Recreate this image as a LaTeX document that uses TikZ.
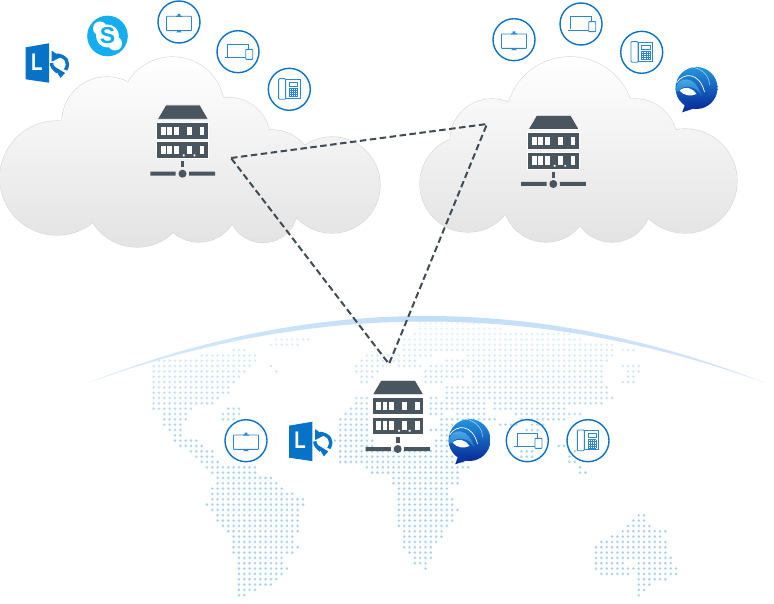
\documentclass[tikz,border=0pt]{standalone}
\usepackage{fontspec}
\setmainfont{Liberation Sans}
\definecolor{slate}{HTML}{4A565F}
\definecolor{dashc}{HTML}{3F4B55}
\definecolor{ring}{HTML}{0A72C6}
\definecolor{devc}{HTML}{2F86D0}
\definecolor{dotc}{HTML}{A9D5F2}
\definecolor{lyncb}{HTML}{0672C8}
\definecolor{skypeb}{HTML}{12AEF0}
\definecolor{edgec}{HTML}{D8D8D8}
\definecolor{cloudb}{HTML}{E3E3E3}
\definecolor{jabtop}{HTML}{2396DE}
\definecolor{jabbot}{HTML}{082A9A}
\definecolor{jabtail}{HTML}{0C3FA8}
\definecolor{swirlt}{HTML}{5DB8EE}
\definecolor{swirlb}{HTML}{1677CC}
\pgfdeclarehorizontalshading{horizonfade}{100bp}{
  rgb(0bp)=(.90,.95,.99);
  rgb(25bp)=(.84,.92,.98);
  rgb(50bp)=(.76,.87,.97);
  rgb(75bp)=(.82,.90,.98);
  rgb(87bp)=(.90,.95,.99);
  rgb(100bp)=(1,1,1)}
\tikzset{
  linkline/.style={draw=dashc,line width=2pt,dash pattern=on 6.5pt off 3.5pt,line join=miter},
  devline/.style={draw=devc,line width=.9pt,fill=none},
  hubfill/.style={fill=slate,draw=white,line width=.7pt},
  ringline/.style={draw=ring,line width=1.4pt},
  tvicon/.pic={
    \draw[ringline] (0,0) circle[radius=21];
    \draw[devline,rounded corners=.6pt] (-12.5,-5.7) rectangle (12.5,8.7);
    \fill[devc] (-3,-6.2) rectangle (3,-5.2) (-1.3,-8.2) rectangle (1.3,-6);
    \fill[devc] (-1,8.7) -- (1,8.7) -- (3,10.5) -- (-3,10.5) -- cycle;
  },
  laptopicon/.pic={
    \draw[ringline] (0,0) circle[radius=21];
    \draw[devline] (-10.3,5.5) -- (-10.3,-7.3) -- (10.3,-7.3) -- (10.3,-2.3);
    \draw[devline] (-13,6) -- (7.5,6);
    \draw[devline,fill=white,rounded corners=.6pt] (7.7,-2.3) rectangle (14.7,7.7);
  },
  phoneicon/.pic={
    \draw[ringline] (0,0) circle[radius=21];
    \draw[devline,rounded corners=1pt] (-10.7,-10.7) rectangle (-3.6,10);
    \draw[devline] (-3.6,-9.8) rectangle (10.7,9);
    \draw[devline] (0,-7.3) rectangle (8.3,-3.3);
    \foreach \gk in {0,2.07,4.14,6.21,8.28}{
      \draw[devc,line width=.6pt] (\gk,-1) -- (\gk,7.28);
      \draw[devc,line width=.6pt] (0,{-1+\gk}) -- (8.28,{-1+\gk});
    }
  },
  hubicon/.pic={
    \path[hubfill] (-16.8,-68.7) -- (17.6,-68.7) -- (25.9,-54.4) -- (-25.2,-54.4) -- cycle;
    \path[hubfill] (-25.8,-51.7) rectangle (25.8,-34.4);
    \path[hubfill] (-25.8,-32) rectangle (25.8,-15);
    \foreach \wx in {-21.5,-15.1,-8.5,4.5,17.2}{
      \fill[white] (\wx,-47) rectangle +(4.7,8.3);
      \fill[white] (\wx,-27.7) rectangle +(4.7,8.3);
    }
    \fill[white] (.4,-19.2) rectangle +(1.8,1.8) (11,-19.2) rectangle +(1.8,1.8);
    \fill[slate] (-1.5,-12.4) rectangle (1.8,-6.4);
    \fill[slate] (-32.2,-2) rectangle (-6.8,2) (6.5,-2) rectangle (32.5,2);
    \fill[slate] (0,0) circle[radius=4];
  },
  lyncicon/.pic={
    \fill[lyncb] (-33.8,-15.7) -- (-10.5,-19.7) -- (-10.5,19.7) -- (-33.8,16.3) -- cycle;
    \node[text=white,inner sep=0pt,transform shape,xscale=.78,font=\fontsize{24}{24}\selectfont\bfseries] (lyncl) at (-22.6,-.8) {L};
    \draw[lyncb,line width=3.4pt] (-3,-8) .. controls (6,-7) and (11,-1) .. (6,7);
    \fill[lyncb] (-7.8,-12.3) -- (1.5,-6) -- (-7.8,-1.3) -- cycle;
    \draw[lyncb,line width=3.4pt] (-8,0) .. controls (-8,3) and (-6,6) .. (-2,9);
    \fill[lyncb] (-6,3) -- (5.5,10) -- (1,15) -- cycle;
  },
  skypeicon/.pic={
    \fill[skypeb] (0,0) circle[radius=20.3];
    \fill[white] (0,0) circle[radius=11.5] (-7.5,-7.5) circle[radius=7] (7.5,7.5) circle[radius=7];
    \node[text=skypeb,inner sep=0pt,font=\fontsize{23}{23}\selectfont\bfseries] (skypes) at (0,0) {S};
  },
  jabbericon/.pic={
    \shade[top color=jabtop,bottom color=jabbot] (0,0) circle[radius=21];
    \shade[top color=jabtail,bottom color=jabbot] (-11,15) -- (-14.3,24.3) -- (-1,20) -- cycle;
    \shade[top color=swirlt,bottom color=swirlb] (-21,1) .. controls (-19,-12) and (-1,-14) .. (5,8)
       .. controls (0,-2) and (-12,-4) .. (-17,2) .. controls (-18,4) and (-20,5) .. (-21,1) -- cycle;
    \fill[white] (-17,2.5) .. controls (-11,-2) and (-5,-1) .. (0,6) .. controls (-5,8.5) and (-13,8) .. (-17,2.5) -- cycle;
    \draw[white,line width=.7pt] (-20,-5) .. controls (-13,-16) and (3,-16) .. (8,4);
    \draw[white,line width=.6pt,opacity=.6] (-4,-21) .. controls (6,-19) and (13,-12) .. (13,-3);
  },
}
\newcommand{\leftcloud}{(57,178) circle[radius=57] (107,122) circle[radius=45] (172.5,109) circle[radius=52]
  (228,140) circle[radius=42.5] (272,172) circle[radius=42] (332,185) circle[radius=48]
  (263,208) circle[radius=34.5] (199,203) circle[radius=39] (137,195) circle[radius=52]
  (130,170) circle[radius=50] (190,160) circle[radius=55] (250,170) circle[radius=45] (300,185) circle[radius=30]}
\newcommand{\rightcloud}{(468,184) circle[radius=48] (492,141) circle[radius=42] (570,121) circle[radius=64]
  (635,141) circle[radius=42] (685,181) circle[radius=52] (546,199) circle[radius=43] (612,203) circle[radius=39]
  (570,160) circle[radius=60] (510,170) circle[radius=45] (630,170) circle[radius=45]}
\begin{document}
\begin{tikzpicture}[x=1pt,y=-1pt]
\useasboundingbox (0,0) rectangle (774,604);
\fill[white] (0,0) rectangle (774,604);

% world map dots: row / first column / last column
\foreach \r/\a/\b in {
 -2/15/17,-1/9/19,0/0/19,1/0/18,2/0/17,3/0/16,4/0/15,5/0/14,6/0/14,7/0/12,8/0/11,9/0/7,9/14/16,10/2/6,10/13/16,11/2/6,11/13/15,
 12/2/5,13/3/5,14/4/5,15/4/8,16/5/9,17/7/11,18/8/11,19/9/12,20/10/19,21/11/19,22/12/22,23/12/23,24/11/24,25/11/26,26/11/28,
 27/10/28,28/11/27,29/12/27,30/12/27,31/13/27,32/14/27,33/15/26,34/15/26,35/15/27,36/15/26,37/16/24,38/16/24,39/16/25,40/16/24,
 41/16/23,42/16/22,43/16/19,44/16/17,
 -4/23/29,-3/22/27,1/22/22,2/23/23,
 -7/50/61,-6/50/65,-5/49/78,-4/46/80,-3/47/86,-2/47/86,-2/88/90,-1/40/52,-1/59/86,0/39/49,0/55/85,1/38/43,1/46/50,1/52/84,1/88/91,
 2/38/42,2/51/58,2/60/84,2/89/91,3/39/41,3/51/58,3/60/84,3/89/90,4/39/40,4/51/54,4/60/84,4/88/90,5/55/85,6/55/85,
 7/38/40,7/52/53,7/55/86,8/38/40,8/52/62,8/64/84,9/37/40,9/52/62,9/64/77,10/36/40,10/52/54,10/57/62,10/68/80,
 11/35/40,11/54/64,11/69/77,12/35/40,12/54/56,12/65/68,12/71/73,13/35/40,13/52/55,13/70/72,14/35/40,14/54/55,
 15/34/41,15/53/55,16/35/41,16/53/55,16/76/77,17/35/55,17/69/71,17/78/79,18/35/56,18/69/71,18/78/78,19/35/58,19/78/79,
 20/40/59,20/80/80,21/41/57,21/80/81,22/45/57,23/45/57,24/46/55,25/46/55,26/46/56,27/46/56,28/46/57,29/46/56,30/46/56,31/46/55,
 32/47/54,33/47/54,34/47/53,35/47/52,36/48/52,37/49/52,38/49/51,39/51/51,
 29/91/92,30/90/92,31/89/93,32/88/96,33/86/95,34/84/96,35/83/96,36/83/96,37/83/97,38/83/88,38/91/97,39/83/98,40/84/89,40/91/98,
 41/91/96,42/91/93,43/91/92,44/91/91}{
  \pgfmathtruncatemacro{\shadepct}{min(100,25+3.5*(\r+7))}
  \fill[dotc!\shadepct!white] \foreach \c in {\a,...,\b}{ ({153.7+5.33*\c},{360.7+5.33*\r}) circle[radius=1.45] };
}

% horizon
\shade[shading=horizonfade]
  (88,383) .. controls (313.3,293.7) and (538.7,293.7) .. (765,383)
  .. controls (538.7,301) and (313.3,301) .. (88,383) -- cycle;

% clouds
\draw[edgec,line width=1.2pt] \leftcloud;
\begin{scope}
  \clip \leftcloud;
  \shade[top color=white,bottom color=cloudb] (0,57) rectangle (380,247);
\end{scope}
\draw[edgec,line width=1.2pt] \rightcloud;
\begin{scope}
  \clip \rightcloud;
  \shade[top color=white,bottom color=cloudb] (420,57) rectangle (738,242);
\end{scope}

% hubs
\pic (hubleft) at (182.5,173.7) {hubicon};
\pic (hubright) at (553.3,184) {hubicon};
\pic (hubbottom) at (397.7,449) {hubicon};

% dashed links
\coordinate (ca) at (231,158);
\coordinate (cb) at (487,124);
\coordinate (cc) at (389,364);
\draw[linkline] (ca) -- (cb) -- (cc) -- cycle;

% left group
\pic (lyncleft) at (59.5,63) {lyncicon};
\pic (skypeleft) at (107.5,36) {skypeicon};
\pic (tvleft) at (179,22) {tvicon};
\pic (laptopleft) at (238,51.7) {laptopicon};
\pic (phoneleft) at (289.3,89.3) {phoneicon};

% right group
\pic (tvright) at (514,39.7) {tvicon};
\pic (laptopright) at (581,24) {laptopicon};
\pic (phoneright) at (641.7,52.3) {phoneicon};
\pic (jabberright) at (696.5,88) {jabbericon};

% bottom group
\pic (tvbottom) at (246,440.7) {tvicon};
\pic (lyncbottom) at (322.8,441.4) {lyncicon};
\pic (jabberbottom) at (469.5,440) {jabbericon};
\pic (laptopbottom) at (527.3,440.7) {laptopicon};
\pic (phonebottom) at (588,440.7) {phoneicon};
\end{tikzpicture}
\end{document}
